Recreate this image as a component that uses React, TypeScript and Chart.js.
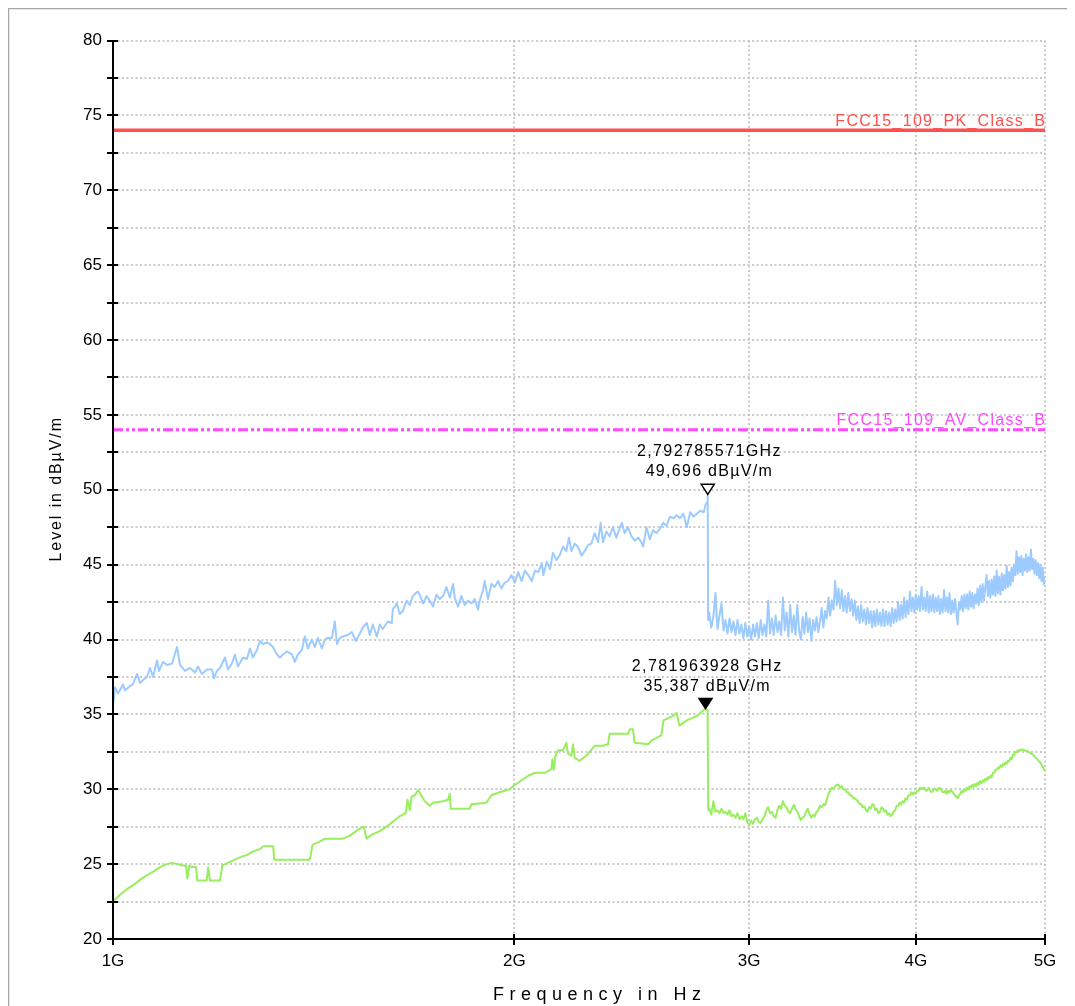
import React, { useEffect, useRef } from 'react';
import { Chart, registerables } from 'chart.js';

Chart.register(...registerables);

// ---- axes ----
const xTickValues = [1, 2, 3, 4, 5]; // GHz
const xTickLabels = ['1G', '2G', '3G', '4G', '5G'];
const yMin = 20;
const yMax = 80;
const yStep = 2.5;
const yLabelStep = 5;
const xTitle = 'Frequency in Hz';
const yTitle = 'Level in dB\u00B5V/m';

// ---- limit lines ----
const limitNames = ['FCC15_109_PK_Class_B', 'FCC15_109_AV_Class_B'];
const limitLevels = [74, 54];

// ---- markers ----
const markerFreq = [2.792785571, 2.781963928];
const markerLevel = [49.696, 35.387];
const markerFilled = [false, true];
const markerLine1 = ['2,792785571GHz', '2,781963928 GHz'];
const markerLine2 = ['49,696 dB\u00B5V/m', '35,387 dB\u00B5V/m'];

// ---- peak trace (GHz, dBuV/m) ----
const peakSeg1 = [
  [1.0, 35.6], [1.0035, 36.8], [1.0087, 36.4], [1.0174, 37.0], [1.0209, 36.6], [1.0298, 36.9], [1.0351, 37.0], [1.0424, 37.7],
  [1.0478, 37.1], [1.0532, 37.3], [1.0605, 37.5], [1.066, 38.1], [1.0715, 37.5], [1.079, 38.6], [1.0827, 37.9], [1.0902, 38.5],
  [1.0978, 38.3], [1.1073, 38.4], [1.1169, 39.5], [1.1227, 38.3], [1.1324, 37.9], [1.1422, 38.1], [1.1521, 37.8], [1.1581, 38.2],
  [1.1661, 37.7], [1.1762, 38.0], [1.1864, 38.0], [1.1905, 37.4], [1.1967, 37.9], [1.2029, 38.1], [1.2133, 38.8], [1.2196, 38.0],
  [1.228, 38.4], [1.2344, 39.0], [1.2408, 38.2], [1.2515, 38.8], [1.2602, 38.7], [1.2668, 39.4], [1.2733, 38.8], [1.2822, 39.3],
  [1.2888, 39.9], [1.2955, 39.7], [1.3045, 39.8], [1.3112, 39.7], [1.318, 39.5], [1.3272, 39.0], [1.3341, 38.8], [1.341, 39.0],
  [1.3503, 39.2], [1.362, 39.0], [1.369, 38.5], [1.3761, 39.0], [1.3856, 39.3], [1.3928, 40.2], [1.4001, 39.4], [1.4098, 40.0],
  [1.4171, 39.5], [1.4245, 40.1], [1.4343, 39.4], [1.4418, 40.0], [1.4493, 40.1], [1.4593, 40.1], [1.4669, 41.2], [1.472, 39.7],
  [1.4796, 40.1], [1.4872, 40.2], [1.5001, 40.3], [1.5105, 40.5], [1.521, 39.9], [1.5315, 40.4], [1.5394, 40.8], [1.5501, 41.1],
  [1.5581, 40.3], [1.5662, 41.0], [1.5771, 40.2], [1.5853, 41.0], [1.5935, 40.7], [1.6073, 41.2], [1.6184, 41.1], [1.6212, 42.0],
  [1.6324, 42.4], [1.6409, 41.7], [1.6494, 41.9], [1.6608, 42.6], [1.6695, 42.3], [1.6781, 42.9], [1.6926, 43.2],
];
const peakSeg2 = [
  [1.6984, 43.0], [1.7082, 42.4], [1.7183, 42.9], [1.7281, 42.6], [1.7379, 42.2], [1.7482, 43.0], [1.7582, 42.7], [1.7682, 42.9],
  [1.7786, 43.5], [1.7888, 42.8], [1.799, 43.7], [1.8042, 42.8], [1.8146, 42.2], [1.8252, 42.9], [1.8356, 42.3], [1.8461, 42.6],
  [1.857, 42.4], [1.8676, 42.7], [1.8782, 42.0], [1.8838, 42.6], [1.8945, 43.3], [1.9001, 43.9], [1.9109, 42.7], [1.9222, 43.7],
  [1.9332, 43.5], [1.9444, 43.9], [1.9558, 43.4], [1.9669, 43.8], [1.9783, 43.9], [1.99, 44.3], [2.0016, 43.8], [2.0131, 44.5],
  [2.025, 43.9], [2.0368, 44.6], [2.0485, 44.3], [2.0607, 43.9], [2.0727, 44.6], [2.0845, 44.5], [2.0969, 45.1], [2.1025, 44.3],
  [2.115, 45.2], [2.1271, 44.7], [2.1377, 45.8], [2.1502, 45.3], [2.1624, 45.6], [2.1749, 46.2], [2.1877, 45.9], [2.1976, 46.8],
  [2.2068, 45.9], [2.2195, 46.4], [2.2322, 46.2], [2.2455, 45.6], [2.258, 45.9], [2.271, 46.3], [2.2843, 46.4], [2.2973, 47.1],
  [2.3106, 46.5], [2.3213, 47.8], [2.3305, 46.5], [2.3442, 47.2], [2.3576, 46.9], [2.3711, 47.5], [2.3849, 46.8], [2.3986, 47.4],
  [2.408, 47.8], [2.4193, 47.1], [2.4333, 47.5], [2.4478, 46.9], [2.4618, 46.6], [2.476, 46.8], [2.4906, 46.5], [2.4976, 46.2],
  [2.5124, 47.5], [2.527, 46.7], [2.5414, 47.3], [2.5565, 47.1], [2.5713, 47.4], [2.5861, 47.8], [2.6014, 47.6], [2.6164, 48.2],
  [2.6315, 48.1], [2.6472, 48.3], [2.6625, 48.1], [2.6778, 48.4], [2.6938, 47.5], [2.7095, 48.5], [2.7251, 48.2], [2.7413, 48.4],
  [2.7573, 48.6], [2.7735, 48.5], [2.7819, 49.0], [2.7903, 49.2], [2.792785571, 49.696], [2.7945, 41.3],
];
const peakSeg3 = [
  [2.8, 41.8], [2.81, 40.8], [2.82, 41.5], [2.83, 43.1], [2.84, 40.7], [2.85, 41.6], [2.86, 42.4], [2.87, 40.6], [2.88, 41.3],
  [2.89, 40.4], [2.9, 41.4], [2.91, 40.5], [2.92, 41.2], [2.93, 40.3], [2.94, 41.3], [2.95, 40.4], [2.96, 41.0], [2.97, 40.1],
  [2.98, 41.1], [2.99, 40.2], [3.0, 40.9], [3.01, 40.0], [3.02, 41.0], [3.03, 40.2], [3.04, 41.1], [3.05, 40.1], [3.06, 41.3],
  [3.07, 40.3], [3.08, 41.0], [3.09, 40.2], [3.1, 42.6], [3.11, 40.4], [3.12, 41.4], [3.13, 40.3], [3.14, 41.6], [3.15, 40.5],
  [3.16, 41.2], [3.17, 40.3], [3.18, 42.8], [3.19, 40.6], [3.2, 41.8], [3.21, 40.2], [3.22, 42.3], [3.23, 40.5], [3.24, 41.6],
  [3.25, 40.3], [3.26, 42.3], [3.27, 40.6], [3.28, 40.0], [3.29, 41.5], [3.3, 40.4], [3.31, 41.8], [3.32, 40.5], [3.33, 41.4],
  [3.34, 39.9], [3.35, 41.3], [3.36, 40.6], [3.37, 41.5], [3.38, 40.5], [3.39, 41.2], [3.4, 42.1], [3.41, 40.8], [3.42, 41.9],
  [3.43, 41.4], [3.44, 42.8], [3.45, 41.6], [3.46, 42.6], [3.47, 42.0], [3.48, 43.9], [3.49, 42.3], [3.5, 43.4], [3.51, 42.1],
  [3.52, 43.3], [3.53, 41.9], [3.54, 42.9], [3.55, 41.8], [3.56, 43.1], [3.57, 41.9], [3.58, 42.7], [3.59, 41.6], [3.6, 42.6],
  [3.61, 41.3], [3.62, 42.2], [3.63, 41.1], [3.64, 42.3], [3.65, 41.2], [3.66, 42.0], [3.67, 41.0], [3.68, 42.1], [3.69, 41.1],
  [3.7, 41.9], [3.71, 40.8], [3.72, 41.9], [3.73, 40.9], [3.74, 42.0], [3.75, 41.0], [3.76, 41.8], [3.77, 40.9], [3.78, 42.0],
  [3.79, 40.9], [3.8, 41.9], [3.81, 41.0], [3.82, 41.8], [3.83, 40.9], [3.84, 42.1], [3.85, 41.1], [3.86, 42.0], [3.87, 41.2],
  [3.88, 42.5], [3.89, 41.3], [3.9, 42.3], [3.91, 41.4], [3.92, 42.8], [3.93, 41.5], [3.94, 42.6], [3.95, 41.7], [3.96, 43.2],
  [3.97, 41.9], [3.98, 42.8], [3.99, 41.8], [4.0, 43.0], [4.01, 42.0], [4.02, 42.9], [4.03, 41.9], [4.04, 43.5], [4.05, 42.0],
  [4.06, 42.8], [4.07, 41.9], [4.08, 43.2], [4.09, 41.8], [4.1, 42.9], [4.11, 41.9], [4.12, 43.0], [4.13, 41.8], [4.14, 42.8],
  [4.15, 41.9], [4.16, 42.9], [4.17, 41.7], [4.18, 42.7], [4.19, 41.8], [4.2, 43.3], [4.21, 41.9], [4.22, 42.8], [4.23, 41.8],
  [4.24, 43.1], [4.25, 41.7], [4.26, 42.6], [4.27, 41.8], [4.28, 42.7], [4.29, 41.9], [4.3, 41.0], [4.31, 42.5], [4.32, 42.0],
  [4.33, 42.9], [4.34, 41.9], [4.35, 43.0], [4.36, 42.1], [4.37, 43.0], [4.38, 42.0], [4.39, 43.2], [4.4, 42.2], [4.41, 43.1],
  [4.42, 42.1], [4.43, 43.0], [4.44, 42.4], [4.45, 43.4], [4.46, 42.3], [4.47, 43.6], [4.48, 42.5], [4.49, 43.7], [4.5, 42.6],
  [4.51, 43.5], [4.52, 44.3], [4.53, 42.9], [4.54, 43.9], [4.55, 42.8], [4.56, 44.0], [4.57, 43.0], [4.58, 44.2], [4.59, 42.9],
  [4.6, 44.6], [4.61, 43.1], [4.62, 44.2], [4.63, 43.0], [4.64, 44.4], [4.65, 43.3], [4.66, 44.3], [4.67, 43.4], [4.68, 44.9],
  [4.69, 43.5], [4.7, 44.5], [4.71, 43.6], [4.72, 44.8], [4.73, 43.9], [4.74, 45.0], [4.75, 44.3], [4.76, 45.9], [4.77, 44.4],
  [4.78, 45.5], [4.79, 44.5], [4.8, 45.6], [4.81, 44.3], [4.82, 45.4], [4.83, 44.6], [4.84, 45.7], [4.85, 44.5], [4.86, 45.5],
  [4.87, 44.6], [4.88, 46.0], [4.89, 44.7], [4.9, 45.4], [4.91, 44.4], [4.92, 45.3], [4.93, 44.3], [4.94, 45.1], [4.95, 44.1],
  [4.96, 45.0], [4.97, 43.9], [4.98, 44.8], [4.99, 43.7], [5.0, 44.1],
];

// ---- average trace (GHz, dBuV/m) ----
const avgSeg1 = [
  [1.0, 22.5], [1.0122, 22.95], [1.0268, 23.4], [1.0357, 23.6], [1.0478, 23.95], [1.0599, 24.25], [1.0721, 24.5], [1.0846, 24.8],
  [1.0972, 25.0], [1.1067, 25.07], [1.1194, 25.0], [1.126, 24.9], [1.1344, 24.9], [1.137, 24.05], [1.1409, 24.9], [1.1456, 24.8],
  [1.1541, 24.8], [1.1567, 23.9], [1.1756, 23.9], [1.1788, 24.8], [1.1822, 23.9], [1.2029, 23.9], [1.2077, 24.9], [1.2203, 25.1],
  [1.2344, 25.3], [1.2487, 25.5], [1.2595, 25.6], [1.274, 25.85], [1.2888, 26.0], [1.2962, 26.2], [1.3187, 26.2], [1.321, 25.3],
  [1.4049, 25.3], [1.4115, 26.3], [1.4252, 26.45], [1.4418, 26.7], [1.488, 26.7], [1.5053, 26.9], [1.527, 27.3], [1.5421, 27.5],
  [1.5493, 26.7], [1.5627, 26.95], [1.5853, 27.2], [1.6037, 27.5], [1.622, 27.85], [1.6409, 28.2], [1.658, 28.4], [1.6629, 29.3],
  [1.6695, 28.6], [1.6744, 29.5], [1.684, 29.6],
];
const avgSeg2 = [
  [1.6937, 29.95], [1.7132, 29.2], [1.7281, 28.9], [1.7379, 29.1], [1.7682, 29.2], [1.7836, 29.3], [1.7888, 29.7], [1.7919, 28.7],
  [1.8514, 28.7], [1.857, 29.0], [1.9057, 29.1], [1.9222, 29.6], [1.95, 29.8], [1.9842, 30.0], [1.9952, 30.2], [2.025, 30.6],
  [2.0485, 30.9], [2.0727, 31.1], [2.1074, 31.1], [2.1318, 31.35], [2.1355, 32.0], [2.1404, 31.3], [2.1466, 32.2], [2.1563, 32.6],
  [2.1749, 32.6], [2.1877, 33.1], [2.1937, 32.4], [2.2068, 32.25], [2.2129, 33.0], [2.2195, 32.1], [2.2388, 31.9], [2.2647, 32.25],
  [2.2973, 32.9], [2.3305, 32.9], [2.3508, 33.0], [2.3576, 33.7], [2.4333, 33.7], [2.4405, 34.0], [2.4542, 34.0], [2.4618, 33.1],
  [2.5195, 33.0], [2.5338, 33.25], [2.5772, 33.6], [2.5874, 34.6], [2.6315, 34.9], [2.6472, 35.1], [2.6593, 34.25], [2.6938, 34.6],
  [2.7413, 34.9], [2.781963928, 35.387], [2.792, 35.25], [2.795, 28.6],
];
const avgSeg3 = [
  [2.8, 28.7], [2.81, 28.3], [2.82, 29.2], [2.83, 28.5], [2.84, 28.6], [2.85, 28.4], [2.86, 28.7], [2.87, 28.4], [2.88, 28.5],
  [2.89, 28.3], [2.9, 28.6], [2.91, 28.2], [2.92, 28.3], [2.93, 28.1], [2.94, 28.4], [2.95, 28.0], [2.96, 28.2], [2.97, 28.0],
  [2.98, 28.4], [2.99, 27.8], [3.0, 27.6], [3.01, 27.9], [3.02, 27.7], [3.03, 28.0], [3.04, 28.1], [3.05, 27.8], [3.06, 27.75],
  [3.07, 28.0], [3.08, 28.2], [3.09, 28.6], [3.1, 28.8], [3.11, 28.4], [3.12, 28.5], [3.13, 28.2], [3.14, 28.1], [3.15, 28.6],
  [3.16, 28.9], [3.17, 28.7], [3.18, 29.2], [3.19, 28.9], [3.2, 28.8], [3.21, 28.5], [3.22, 28.4], [3.23, 28.7], [3.24, 28.95],
  [3.25, 28.7], [3.26, 28.5], [3.27, 28.2], [3.28, 27.95], [3.29, 28.1], [3.3, 28.2], [3.31, 28.5], [3.32, 28.7], [3.33, 28.3],
  [3.34, 28.1], [3.35, 28.3], [3.36, 28.2], [3.37, 28.5], [3.38, 28.6], [3.39, 28.9], [3.4, 28.8], [3.41, 29.0], [3.42, 28.95],
  [3.43, 29.3], [3.44, 29.7], [3.45, 29.9], [3.46, 30.1], [3.47, 30.0], [3.48, 30.2], [3.49, 30.3], [3.5, 30.3], [3.51, 30.1],
  [3.52, 30.2], [3.53, 30.0], [3.54, 30.0], [3.55, 29.8], [3.56, 29.8], [3.57, 29.6], [3.58, 29.6], [3.59, 29.4], [3.6, 29.4],
  [3.61, 29.3], [3.62, 29.2], [3.63, 29.0], [3.64, 29.0], [3.65, 28.8], [3.66, 28.85], [3.67, 28.6], [3.68, 28.5], [3.69, 28.8],
  [3.7, 28.7], [3.71, 29.0], [3.72, 28.95], [3.73, 28.6], [3.74, 28.7], [3.75, 28.4], [3.76, 28.5], [3.77, 28.8], [3.78, 28.7],
  [3.79, 28.5], [3.8, 28.6], [3.81, 28.3], [3.82, 28.4], [3.83, 28.2], [3.84, 28.3], [3.85, 28.5], [3.86, 28.6], [3.87, 28.9],
  [3.88, 28.9], [3.89, 29.1], [3.9, 29.0], [3.91, 29.2], [3.92, 29.1], [3.93, 29.4], [3.94, 29.3], [3.95, 29.6], [3.96, 29.6],
  [3.97, 29.8], [3.98, 29.65], [3.99, 29.8], [4.0, 29.7], [4.01, 29.9], [4.02, 29.9], [4.03, 30.1], [4.04, 30.0], [4.05, 30.1],
  [4.06, 30.1], [4.07, 29.9], [4.08, 29.95], [4.09, 30.1], [4.1, 29.95], [4.11, 29.8], [4.12, 29.9], [4.13, 30.05], [4.14, 30.0],
  [4.15, 29.9], [4.16, 30.0], [4.17, 30.1], [4.18, 29.95], [4.19, 29.8], [4.2, 29.8], [4.21, 29.9], [4.22, 29.7], [4.23, 29.9],
  [4.24, 29.8], [4.25, 29.95], [4.26, 29.85], [4.27, 29.7], [4.28, 29.6], [4.29, 29.5], [4.3, 29.4], [4.31, 29.6], [4.32, 29.7],
  [4.33, 29.9], [4.34, 29.8], [4.35, 30.0], [4.36, 29.9], [4.37, 30.1], [4.38, 30.0], [4.39, 30.2], [4.4, 30.1], [4.41, 30.3],
  [4.42, 30.15], [4.43, 30.35], [4.44, 30.2], [4.45, 30.45], [4.46, 30.3], [4.47, 30.55], [4.48, 30.4], [4.49, 30.6], [4.5, 30.5],
  [4.51, 30.7], [4.52, 30.6], [4.53, 30.8], [4.54, 30.7], [4.55, 30.9], [4.56, 30.8], [4.57, 31.1], [4.58, 31.1], [4.59, 31.3],
  [4.6, 31.3], [4.61, 31.45], [4.62, 31.4], [4.63, 31.6], [4.64, 31.5], [4.65, 31.7], [4.66, 31.6], [4.67, 31.8], [4.68, 31.7],
  [4.69, 31.9], [4.7, 31.85], [4.71, 32.1], [4.72, 32.0], [4.73, 32.3], [4.74, 32.25], [4.75, 32.5], [4.76, 32.45], [4.77, 32.6],
  [4.78, 32.55], [4.79, 32.65], [4.8, 32.6], [4.81, 32.65], [4.82, 32.6], [4.83, 32.6], [4.84, 32.55], [4.85, 32.55], [4.86, 32.5],
  [4.87, 32.45], [4.88, 32.4], [4.89, 32.35], [4.9, 32.3], [4.91, 32.2], [4.92, 32.1], [4.93, 32.05], [4.94, 31.95], [4.95, 31.85],
  [4.96, 31.8], [4.97, 31.65], [4.98, 31.5], [4.99, 31.35], [5.0, 31.2],
];

const FONT = '"Liberation Sans", Arial, Helvetica, sans-serif';
const CANVAS_W = 1065;
const CANVAS_H = 996;

function toXY(segs: number[][][]) {
  const out: { x: number; y: number }[] = [];
  segs.forEach((s) => s.forEach(([f, v]) => out.push({ x: f, y: v })));
  return out;
}

function spacedText(ctx: any, text: string, x: number, y: number, ls: number, align: string) {
  ctx.letterSpacing = ls + 'px';
  const w = ctx.measureText(text).width - ls;
  let sx = x;
  if (align === 'center') sx = x - w / 2;
  else if (align === 'right') sx = x - w;
  ctx.textAlign = 'left';
  ctx.fillText(text, sx, y);
  ctx.letterSpacing = '0px';
}

export default function App() {
  const ref = useRef<HTMLCanvasElement>(null);

  useEffect(() => {
    document.documentElement.style.overflow = 'hidden';
    document.body.style.overflow = 'hidden';
    const canvas = ref.current;
    if (!canvas) return;

    const decor = {
      id: 'emiDecor',
      beforeDatasetsDraw(chart: any) {
        const { ctx, chartArea: a, scales } = chart;
        const xs = scales.x;
        const ys = scales.y;
        ctx.save();
        ctx.strokeStyle = '#b9b9b9';
        ctx.lineWidth = 1.5;
        ctx.setLineDash([2, 2.5]);
        ys.ticks.forEach((t: any) => {
          if (t.value <= yMin) return;
          const py = Math.round(ys.getPixelForValue(t.value));
          ctx.beginPath();
          ctx.moveTo(a.left, py);
          ctx.lineTo(a.right, py);
          ctx.stroke();
        });
        xTickValues.forEach((v) => {
          if (v === xTickValues[0]) return;
          const px = Math.round(xs.getPixelForValue(v));
          ctx.beginPath();
          ctx.moveTo(px, a.top);
          ctx.lineTo(px, a.bottom);
          ctx.stroke();
        });
        ctx.restore();
      },
      afterDatasetsDraw(chart: any) {
        const { ctx, chartArea: a, scales } = chart;
        const xs = scales.x;
        const ys = scales.y;
        ctx.save();
        // axes
        ctx.strokeStyle = '#000';
        ctx.lineWidth = 2;
        ctx.setLineDash([]);
        ctx.beginPath();
        ctx.moveTo(a.left, ys.getPixelForValue(yMax));
        ctx.lineTo(a.left, a.bottom);
        ctx.lineTo(a.right, a.bottom);
        ctx.stroke();
        ys.ticks.forEach((t: any) => {
          const py = Math.round(ys.getPixelForValue(t.value));
          ctx.beginPath();
          ctx.moveTo(a.left - 6, py);
          ctx.lineTo(a.left + 5, py);
          ctx.stroke();
        });
        xTickValues.forEach((v) => {
          const px = Math.round(xs.getPixelForValue(v));
          ctx.beginPath();
          ctx.moveTo(px, a.bottom - 5);
          ctx.lineTo(px, a.bottom + 6);
          ctx.stroke();
        });

        // limit labels
        ctx.font = '16px ' + FONT;
        ctx.textBaseline = 'alphabetic';
        const limitColors = ['#ff5050', '#ff48ff'];
        limitNames.forEach((name, i) => {
          ctx.fillStyle = limitColors[i];
          const py = ys.getPixelForValue(limitLevels[i]);
          spacedText(ctx, name, a.right, py - 4.5, 1.3, 'right');
        });

        // markers
        markerFreq.forEach((f, i) => {
          const px = xs.getPixelForValue(f);
          const py = ys.getPixelForValue(markerLevel[i]);
          ctx.beginPath();
          ctx.moveTo(px, py);
          ctx.lineTo(px - 6.5, py - 10);
          ctx.lineTo(px + 6.5, py - 10);
          ctx.closePath();
          ctx.fillStyle = markerFilled[i] ? '#000' : '#fff';
          ctx.fill();
          ctx.lineWidth = 1.5;
          ctx.strokeStyle = '#000';
          ctx.stroke();
          ctx.fillStyle = '#000';
          ctx.font = '16px ' + FONT;
          spacedText(ctx, markerLine1[i], px + 1, py - 38, 1.4, 'center');
          spacedText(ctx, markerLine2[i], px + 1, py - 18, 1.3, 'center');
        });

        // axis titles
        ctx.fillStyle = '#000';
        ctx.font = '16px ' + FONT;
        ctx.save();
        ctx.translate(a.left - 56, (a.top + a.bottom) / 2);
        ctx.rotate(-Math.PI / 2);
        ctx.textBaseline = 'middle';
        spacedText(ctx, yTitle, 0, 0, 1.9, 'center');
        ctx.restore();

        ctx.font = '18px ' + FONT;
        ctx.textBaseline = 'alphabetic';
        spacedText(ctx, xTitle, 483, 990, 5.5, 'left');
        ctx.restore();
      },
    };

    const chart = new Chart(canvas, {
      type: 'line',
      data: {
        datasets: [
          {
            label: 'Peak',
            data: toXY([peakSeg1, peakSeg2, peakSeg3]),
            borderColor: '#9dcbff',
            borderWidth: 2,
            pointRadius: 0,
            tension: 0,
            borderJoinStyle: 'round',
            fill: false,
          },
          {
            label: 'Average',
            data: toXY([avgSeg1, avgSeg2, avgSeg3]),
            borderColor: '#98ee5e',
            borderWidth: 2,
            pointRadius: 0,
            tension: 0,
            borderJoinStyle: 'round',
            fill: false,
          },
          {
            label: limitNames[0],
            data: [
              { x: xTickValues[0], y: limitLevels[0] },
              { x: xTickValues[xTickValues.length - 1], y: limitLevels[0] },
            ],
            borderColor: '#ff5050',
            borderWidth: 3.5,
            pointRadius: 0,
            fill: false,
          },
          {
            label: limitNames[1],
            data: [
              { x: xTickValues[0], y: limitLevels[1] },
              { x: xTickValues[xTickValues.length - 1], y: limitLevels[1] },
            ],
            borderColor: '#ff48ff',
            borderWidth: 3,
            borderDash: [10, 3, 3, 3, 3, 3],
            pointRadius: 0,
            fill: false,
          },
        ],
      } as any,
      options: {
        animation: false,
        responsive: false,
        devicePixelRatio: 1,
        events: [],
        layout: { padding: { top: 30.5, right: 30, left: 0, bottom: 0 } },
        plugins: {
          legend: { display: false },
          tooltip: { enabled: false },
          title: { display: false },
        },
        scales: {
          x: {
            type: 'logarithmic',
            min: xTickValues[0],
            max: xTickValues[xTickValues.length - 1],
            grid: { display: false, drawTicks: false },
            border: { display: false },
            afterBuildTicks: (s: any) => {
              s.ticks = xTickValues.map((v) => ({ value: v }));
            },
            afterFit: (s: any) => {
              s.height = 67;
            },
            ticks: {
              autoSkip: false,
              maxRotation: 0,
              minRotation: 0,
              padding: 12,
              color: '#000',
              font: { family: FONT, size: 17 },
              callback: (v: any) => {
                const i = xTickValues.indexOf(Number(v));
                return i >= 0 ? xTickLabels[i] : '';
              },
            },
          },
          y: {
            type: 'linear',
            min: yMin,
            max: yMax,
            grid: { display: false, drawTicks: false },
            border: { display: false },
            afterFit: (s: any) => {
              s.width = 103;
            },
            ticks: {
              stepSize: yStep,
              autoSkip: false,
              padding: 11,
              color: '#000',
              font: { family: FONT, size: 17 },
              callback: (v: any) => (Number(v) % yLabelStep === 0 ? String(v) : ''),
            },
          },
        },
      } as any,
      plugins: [decor],
    });

    return () => chart.destroy();
  }, []);

  return (
    <div
      style={{
        width: 1090,
        height: CANVAS_H + 10,
        border: '1px solid #a6a6a6',
        background: '#fff',
        boxSizing: 'content-box',
      }}
    >
      <div style={{ border: '1px solid #e6e6e6', width: 1088, height: CANVAS_H + 8 }}>
        <canvas ref={ref} width={CANVAS_W} height={CANVAS_H} style={{ display: 'block', width: CANVAS_W, height: CANVAS_H }} />
      </div>
    </div>
  );
}
